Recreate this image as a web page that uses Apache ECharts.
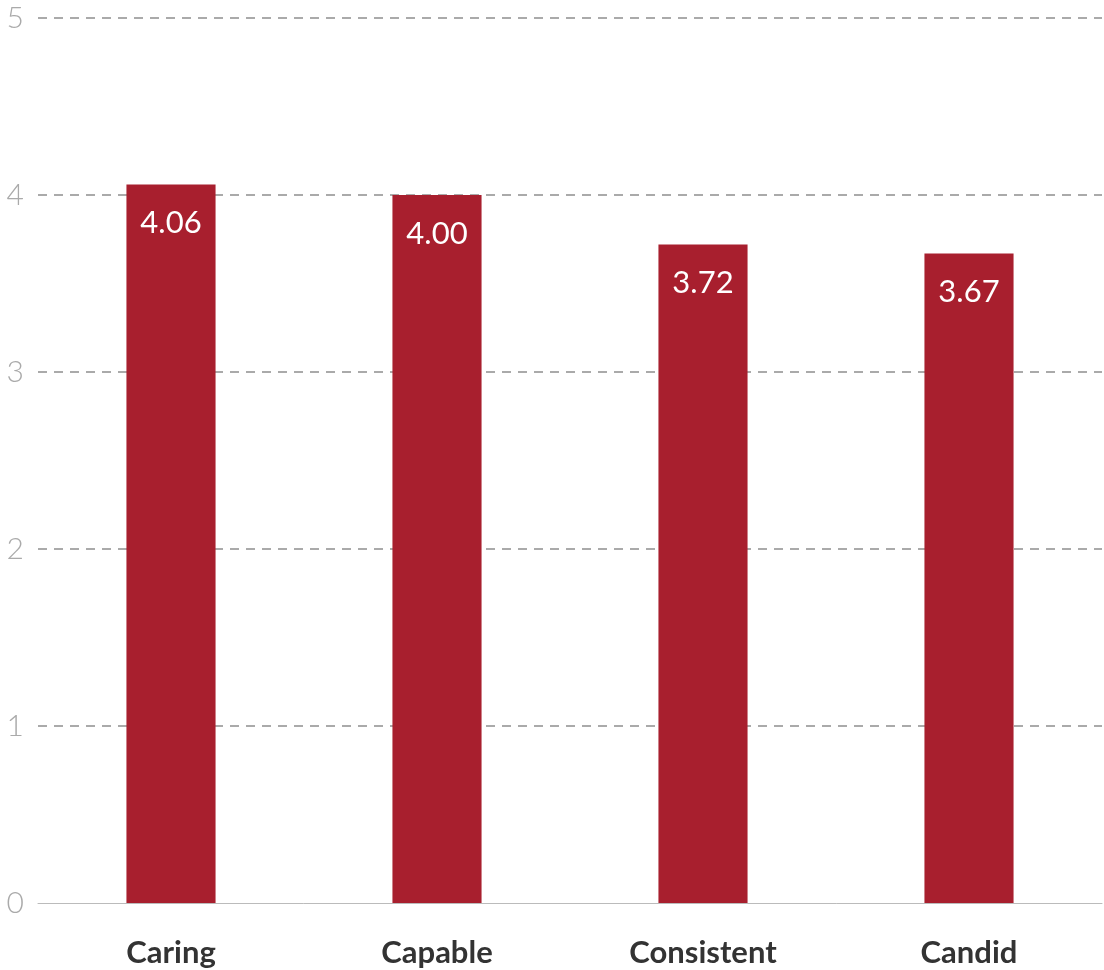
<!DOCTYPE html>
<html><head><meta charset="utf-8">
<script src="https://cdn.jsdelivr.net/npm/echarts@6/dist/echarts.min.js"></script>
<style>html,body{margin:0;padding:0;background:#fff}#c{width:1104px;height:970px}</style>
</head><body><div id="c"></div>
<script>
const categories = ['Caring', 'Capable', 'Consistent', 'Candid'];
const values = [4.06, 4.00, 3.72, 3.67];
const yTicks = [0, 1, 2, 3, 4, 5];

const chart = echarts.init(document.getElementById('c'));
chart.setOption({
  animation: false,
  grid: { left: 38, right: 2, top: 18, bottom: 67 },
  xAxis: {
    type: 'category', data: categories,
    axisLine: { show: true, lineStyle: { color: '#bbbbbb', width: 1 } },
    axisTick: { show: false },
    axisLabel: { color: '#333333', fontFamily: 'Lato', fontWeight: 'bold', fontSize: 31, margin: 34 }
  },
  yAxis: {
    type: 'value', min: 0, max: 5, interval: 1,
    axisLine: { show: false }, axisTick: { show: false },
    axisLabel: { color: '#aaaaaa', fontFamily: 'Lato', fontWeight: 300, fontSize: 30, margin: 14,
      formatter: v => yTicks.includes(v) ? String(v) : '' },
    splitLine: { show: true, showMinLine: false, lineStyle: { color: '#aaaaaa', width: 2, type: [9, 7] } }
  },
  series: [{
    type: 'bar', data: values, barWidth: '33.5%',
    itemStyle: { color: '#a81f2e' },
    label: { show: true, position: 'insideTop', distance: 23, color: '#ffffff',
      fontFamily: 'Lato', fontSize: 31, formatter: p => p.value.toFixed(2) }
  }]
});
</script></body></html>
